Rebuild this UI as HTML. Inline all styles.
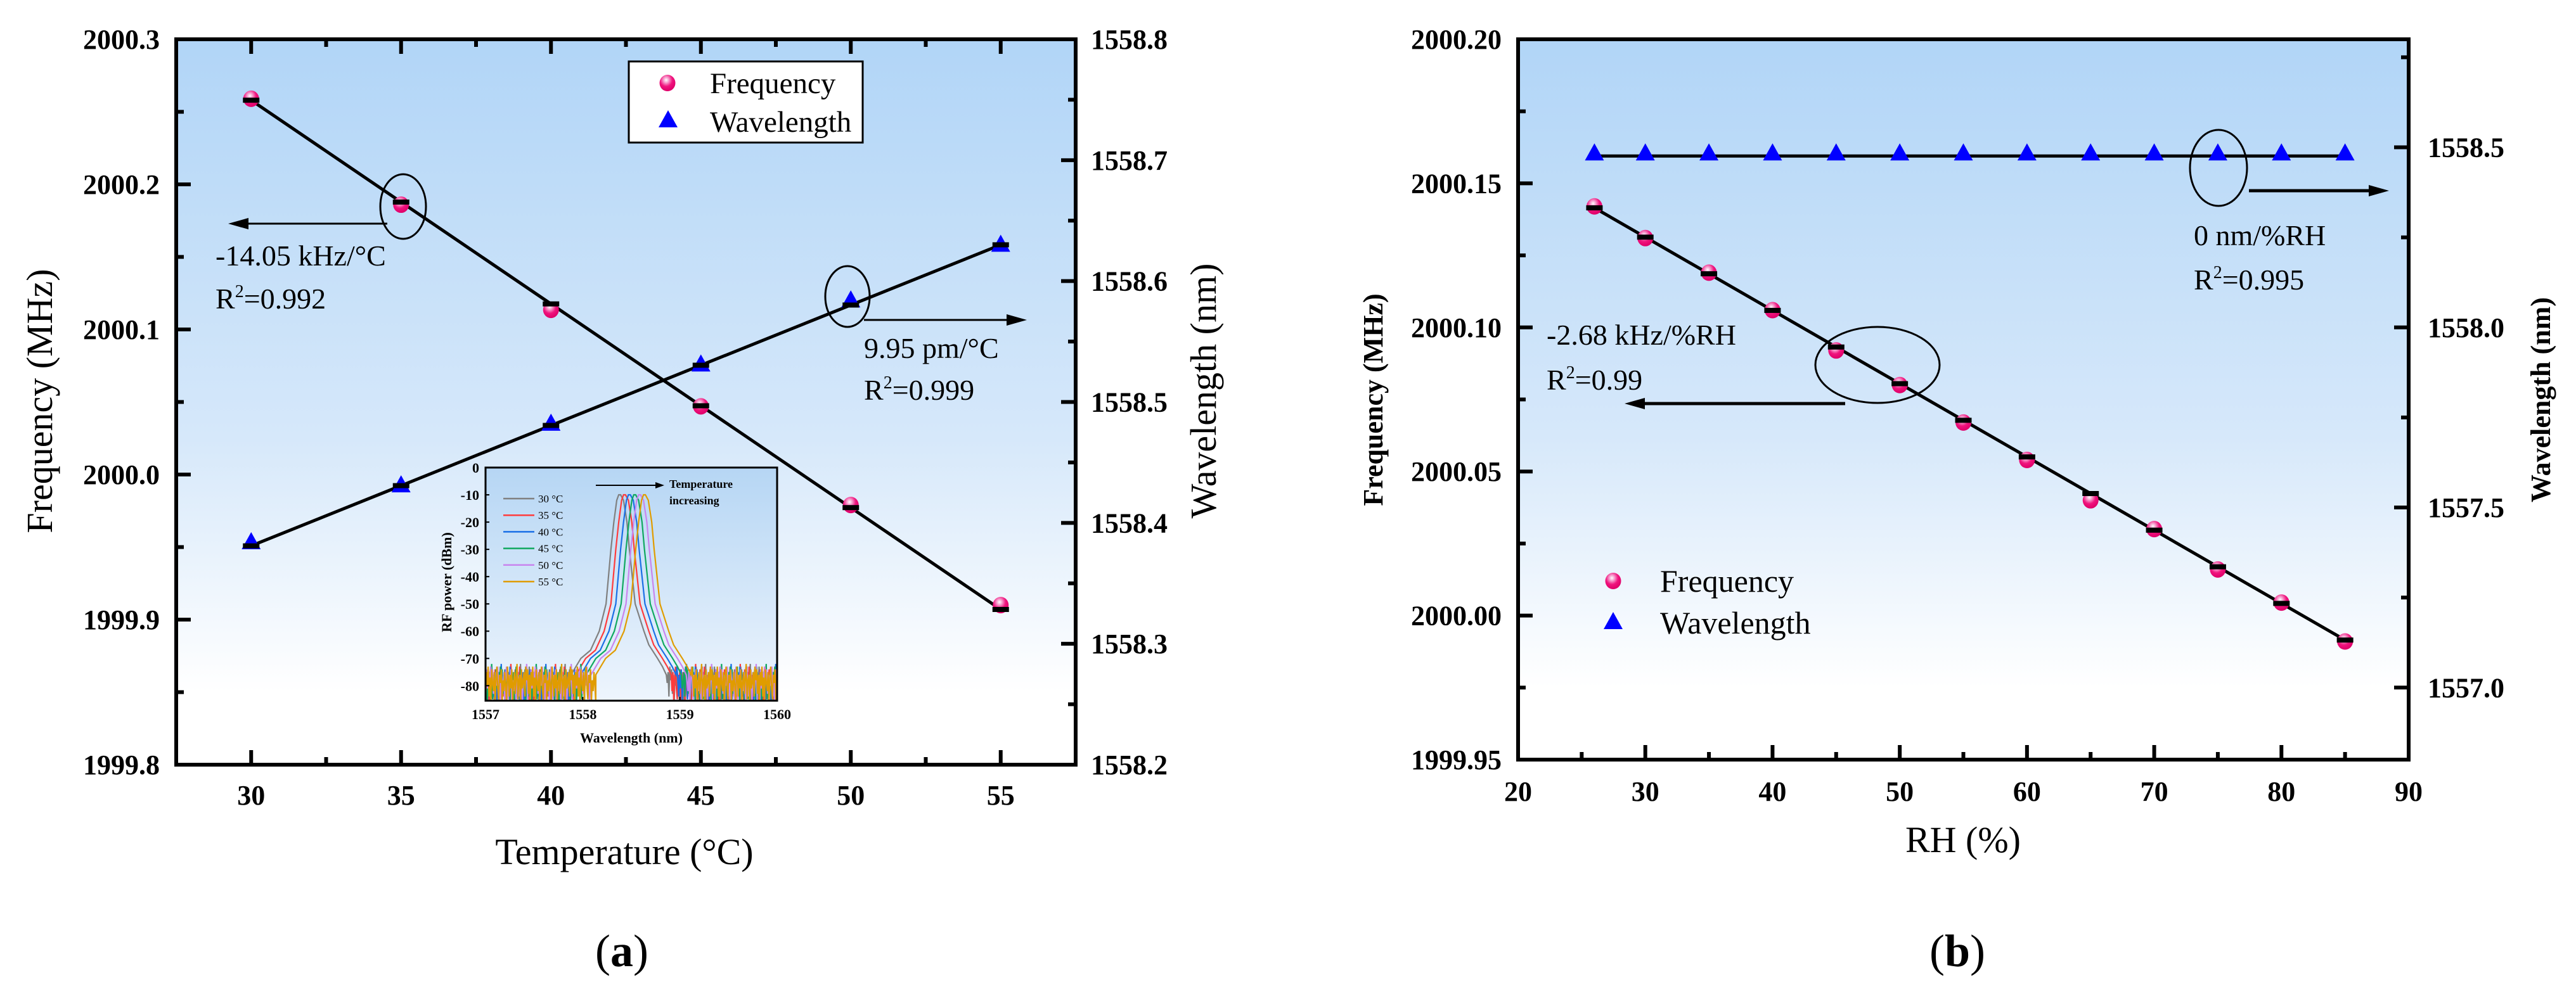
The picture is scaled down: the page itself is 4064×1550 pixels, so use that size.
<!DOCTYPE html>
<html><head><meta charset="utf-8">
<style>
html,body{margin:0;padding:0;background:#fff;}
svg{display:block;}
svg text{font-family:"Liberation Serif","Times New Roman",serif;}
</style></head>
<body>
<svg id="fig" width="4064" height="1550" viewBox="0 0 4064 1550" xmlns="http://www.w3.org/2000/svg" font-family="Liberation Serif, serif">
<defs>
<linearGradient id="bg" x1="0" y1="0" x2="0" y2="1">
<stop offset="0" stop-color="#b1d5f7"/><stop offset="0.55" stop-color="#d6e8fa"/><stop offset="0.9" stop-color="#ffffff"/><stop offset="1" stop-color="#ffffff"/>
</linearGradient>
<linearGradient id="bgi" x1="0" y1="0" x2="0" y2="1">
<stop offset="0" stop-color="#b6d6f4"/><stop offset="1" stop-color="#eef5fd"/>
</linearGradient>
<radialGradient id="ball" cx="0.42" cy="0.32" r="0.65">
<stop offset="0" stop-color="#ffffff"/><stop offset="0.25" stop-color="#f7a0cf"/><stop offset="0.6" stop-color="#f0147e"/><stop offset="1" stop-color="#e0006a"/>
</radialGradient>
<clipPath id="insetclip"><rect x="766" y="738" width="460" height="368"/></clipPath>
</defs>
<g id="root"></g>
</svg>
<script>
// ===== Panel (a) data =====
const tempX = [30, 35, 40, 45, 50, 55];
const tempFreq = [2000.259, 2000.186, 2000.1135, 2000.047, 1999.979, 1999.910];
const tempWave = [1558.384, 1558.431, 1558.482, 1558.531, 1558.584, 1558.630];
const tempFitFreq = [2000.258, 1999.907];
const tempFitWave = [1558.381, 1558.630];
const aLeftTicks = ["1999.8","1999.9","2000.0","2000.1","2000.2","2000.3"];
const aRightTicks = ["1558.2","1558.3","1558.4","1558.5","1558.6","1558.7","1558.8"];
const aXTicks = [30, 35, 40, 45, 50, 55];
// inset data
const insetLabels = ["30 °C","35 °C","40 °C","45 °C","50 °C","55 °C"];
const insetCenters = [1558.38, 1558.43, 1558.48, 1558.535, 1558.585, 1558.635];
const profileOff = [-0.5,-0.45,-0.4,-0.3,-0.21,-0.14,-0.09,-0.06,-0.03,-0.01,0.01,0.04,0.075,0.1,0.16,0.25,0.3,0.39,0.44,0.48];
const profileDb  = [-76,-73,-70,-67,-60,-50,-30,-20,-12,-10,-10,-12,-20,-30,-50,-60,-65,-70,-73,-76];
const noiseDb = [-78,-74,-83,-76,-86,-75,-80,-73,-84,-77,-86,-74,-79,-82,-75,-86,-77,-73,-81,-85,-76,-79,-74,-86,-78,-82,-75,-80,-86,-73,-77,-84,-76,-81,-74,-86,-79,-75,-83,-77,-72,-85,-78,-76,-87,-74,-81,-79,-75,-84,-73];
const insetXTicks = [1557, 1558, 1559, 1560];
const insetYTicks = [0,-10,-20,-30,-40,-50,-60,-70,-80];
// ===== Panel (b) data =====
const rhX = [26, 30, 35, 40, 45, 50, 55, 60, 65, 70, 75, 80, 85];
const rhFreq = [2000.142, 2000.131, 2000.119, 2000.106, 2000.092, 2000.080, 2000.067, 2000.054, 2000.040, 2000.030, 2000.016, 2000.0045, 1999.991];
const rhWave = [1558.476, 1558.476, 1558.476, 1558.476, 1558.476, 1558.476, 1558.476, 1558.476, 1558.476, 1558.476, 1558.476, 1558.476, 1558.476];
const rhFitFreq = [2000.1415, 1999.9915];
const rhFitWave = [1558.476, 1558.476];
const bLeftTicks = ["1999.95","2000.00","2000.05","2000.10","2000.15","2000.20"];
const bRightTicks = ["1557.0","1557.5","1558.0","1558.5"];
const bXTicks = [20, 30, 40, 50, 60, 70, 80, 90];

const NS = "http://www.w3.org/2000/svg";
const root = document.getElementById('root');
function mk(tag, attrs, parent, text){
  const e = document.createElementNS(NS, tag);
  for (const k in attrs) e.setAttribute(k, attrs[k]);
  if (tag === 'text') e.setAttribute('font-family', 'Liberation Serif, Times New Roman, serif');
  if (text !== undefined) e.textContent = text;
  (parent || root).appendChild(e);
  return e;
}
function lin(d0,d1,r0,r1){ return v => r0 + (v-d0)/(d1-d0)*(r1-r0); }

function arrow(g, x1, y, x2, w, name){
  const dir = x2 > x1 ? 1 : -1;
  const ln = mk('line', {x1:x1, y1:y, x2:x2 - dir*28, y2:y, stroke:'#000', 'stroke-width':w}, g);
  
  
  const hd = mk('polygon', {points:`${x2},${y} ${x2-dir*32},${y-9} ${x2-dir*32},${y+9}`, fill:'#000'}, g);
  
  
}
function marker(g, kind, x, y){
  if (kind === 'c') {
    const c = mk('ellipse', {cx:x, cy:y, rx:12.5, ry:13, fill:'url(#ball)'}, g);
    
    
  } else {
    const t = mk('polygon', {points:`${x},${y-16} ${x-15},${y+11} ${x+15},${y+11}`, fill:'#0000ff'}, g);
    
    
  }
}
function dash(g, x, y){
  const d = mk('rect', {x:x-13, y:y-4, width:26, height:8, fill:'#000'}, g);
  
  
}
function r2text(g, x, y, val, name){
  const t = mk('text', {x:x, y:y, 'font-size':46}, g);
  
  
  mk('tspan', {}, t, 'R'); mk('tspan', {'font-size':28, dy:-18}, t, '2'); mk('tspan', {dy:18}, t, '=' + val);
}

// ================= PANEL A =================
(function(){
  const L=278, R=1697, T=62, B=1207;
  const sx = lin(27.5, 57.5, L, R);
  const syL = lin(1999.8, 2000.3, B, T);
  const syR = lin(1558.2, 1558.8, B, T);
  const g = mk('g', {});  
  const bg = mk('rect', {x:L, y:T, width:R-L, height:B-T, fill:'url(#bg)'}, g);
   
  for (let i=0;i<aLeftTicks.length;i++){
    const v=parseFloat(aLeftTicks[i]), y=syL(v);
    mk('line',{x1:L,y1:y,x2:L+23,y2:y,stroke:'#000','stroke-width':6},g);
    if (i<aLeftTicks.length-1){ const ym=syL(v+0.05); mk('line',{x1:L,y1:ym,x2:L+12,y2:ym,stroke:'#000','stroke-width':6},g); }
    const t=mk('text',{x:252,y:y+15,'text-anchor':'end','font-size':44,'font-weight':'bold'},g,aLeftTicks[i]);
     
  }
  for (let i=0;i<aRightTicks.length;i++){
    const v=parseFloat(aRightTicks[i]), y=syR(v);
    mk('line',{x1:R,y1:y,x2:R-23,y2:y,stroke:'#000','stroke-width':6},g);
    if (i<aRightTicks.length-1){ const ym=syR(v+0.05); mk('line',{x1:R,y1:ym,x2:R-12,y2:ym,stroke:'#000','stroke-width':6},g); }
    const t=mk('text',{x:1721,y:y+15,'font-size':44,'font-weight':'bold'},g,aRightTicks[i]);
     
  }
  for (let i=0;i<aXTicks.length;i++){
    const x=sx(aXTicks[i]);
    mk('line',{x1:x,y1:B,x2:x,y2:B-23,stroke:'#000','stroke-width':6},g);
    mk('line',{x1:x,y1:T,x2:x,y2:T+23,stroke:'#000','stroke-width':6},g);
    const xm=sx(aXTicks[i]+2.5);
    if (xm<R){ mk('line',{x1:xm,y1:B,x2:xm,y2:B-12,stroke:'#000','stroke-width':6},g); mk('line',{x1:xm,y1:T,x2:xm,y2:T+12,stroke:'#000','stroke-width':6},g); }
    const t=mk('text',{x:x,y:B+63,'text-anchor':'middle','font-size':44,'font-weight':'bold'},g,String(aXTicks[i]));
     
  }
  const n=tempX.length-1;
  const f1=mk('line',{x1:sx(tempX[0]),y1:syL(tempFitFreq[0]),x2:sx(tempX[n]),y2:syL(tempFitFreq[1]),stroke:'#000','stroke-width':5},g);
   
  const f2=mk('line',{x1:sx(tempX[0]),y1:syR(tempFitWave[0]),x2:sx(tempX[n]),y2:syR(tempFitWave[1]),stroke:'#000','stroke-width':5},g);
   
  for (let i=0;i<tempX.length;i++){
    marker(g,'c',sx(tempX[i]),syL(tempFreq[i]));
    marker(g,'t',sx(tempX[i]),syR(tempWave[i]));
    const fr=(tempX[i]-tempX[0])/(tempX[n]-tempX[0]);
    dash(g,sx(tempX[i]),syL(tempFitFreq[0])+(syL(tempFitFreq[1])-syL(tempFitFreq[0]))*fr);
    dash(g,sx(tempX[i]),syR(tempFitWave[0])+(syR(tempFitWave[1])-syR(tempFitWave[0]))*fr);
  }
  mk('ellipse',{cx:636,cy:326,rx:36,ry:51,fill:'none',stroke:'#000','stroke-width':3},g);
  arrow(g,611,353,360,3,'freq-arrow');
  mk('ellipse',{cx:1337,cy:468,rx:35,ry:48,fill:'none',stroke:'#000','stroke-width':3},g);
  arrow(g,1363,505,1620,3,'wave-arrow');
  mk('text',{x:340,y:419,'font-size':46},g,'-14.05 kHz/°C');
  r2text(g,340,487,'0.992','freq-r2-label');
  mk('text',{x:1363,y:565,'font-size':46},g,'9.95 pm/°C');
  r2text(g,1363,631,'0.999','wave-r2-label');
  const lg=mk('g',{},g);  
  mk('rect',{x:992,y:97,width:369,height:128,fill:'#fff',stroke:'#000','stroke-width':3},lg);
  marker(lg,'c',1053,131); marker(lg,'t',1054,190);
  mk('text',{x:1120,y:147,'font-size':47},lg,'Frequency');
  mk('text',{x:1120,y:208,'font-size':47},lg,'Wavelength');
  mk('rect',{x:L,y:T,width:R-L,height:B-T,fill:'none',stroke:'#000','stroke-width':6},g);
  const yt=mk('text',{x:0,y:0,'font-size':58,'text-anchor':'middle',transform:'translate(82,633) rotate(-90)'},g,'Frequency (MHz)');
   
  const yr=mk('text',{x:0,y:0,'font-size':58,'text-anchor':'middle',transform:'translate(1918,617) rotate(-90)'},g,'Wavelength (nm)');
   
  const xt=mk('text',{x:985,y:1364,'font-size':58,'text-anchor':'middle'},g,'Temperature (°C)');
   
  const pl=mk('text',{x:981,y:1525,'font-size':72,'text-anchor':'middle'},g);
   
  mk('tspan',{},pl,'('); mk('tspan',{'font-weight':'bold'},pl,'a'); mk('tspan',{},pl,')');

  // ===== inset =====
  const IL=766, IR=1226, IT=738, IB=1106;
  const ix=lin(1557,1560,IL,IR), iy=lin(0,-85.5,IT,IB);
  const ig=mk('g',{},g);  
  mk('rect',{x:IL,y:IT,width:IR-IL,height:IB-IT,fill:'url(#bgi)'},ig);
  const colors=['#808080','#ff3b3b','#1a6fe6','#10a860','#c884ee','#e09c00'];
  const cg=mk('g',{'clip-path':'url(#insetclip)'},ig);
  for (let k=0;k<insetCenters.length;k++){
    const c=insetCenters[k]; let pts=[];
    let j=k*11;
    for (let w=1557; w<c+profileOff[0]; w+=0.009){ pts.push([w, noiseDb[(j++)%noiseDb.length]]); }
    for (let p=0;p<profileOff.length;p++) pts.push([c+profileOff[p], profileDb[p]]);
    for (let w=c+profileOff[profileOff.length-1]+0.009; w<=1560.01; w+=0.009){ pts.push([w, noiseDb[(j++)%noiseDb.length]]); }
    const d='M'+pts.map(q=>ix(q[0]).toFixed(1)+','+iy(q[1]).toFixed(1)).join('L');
    const pth=mk('path',{d:d,fill:'none',stroke:colors[k],'stroke-width':2.2},cg);
    
    
  }
  mk('rect',{x:IL,y:IT,width:IR-IL,height:IB-IT,fill:'none',stroke:'#000','stroke-width':3},ig);
  for (const v of insetYTicks){
    const y=iy(v);
    mk('line',{x1:IL,y1:y,x2:IL+6,y2:y,stroke:'#000','stroke-width':2},ig);
    mk('text',{x:756,y:y+8,'text-anchor':'end','font-size':22,'font-weight':'bold'},ig,String(v));
  }
  for (const v of insetXTicks){
    const x=ix(v);
    mk('line',{x1:x,y1:IB,x2:x,y2:IB-6,stroke:'#000','stroke-width':2},ig);
    mk('text',{x:x,y:1135,'text-anchor':'middle','font-size':22,'font-weight':'bold'},ig,String(v));
  }
  mk('text',{x:0,y:0,'font-size':22,'font-weight':'bold','text-anchor':'middle',transform:'translate(712,919) rotate(-90)'},ig,'RF power (dBm)');
  mk('text',{x:996,y:1172,'font-size':22,'font-weight':'bold','text-anchor':'middle'},ig,'Wavelength (nm)');
  for (let k=0;k<insetLabels.length;k++){
    const y=787+k*26.2;
    mk('line',{x1:794,y1:y,x2:843,y2:y,stroke:colors[k],'stroke-width':2.5},ig);
    mk('text',{x:849,y:y+6,'font-size':17},ig,insetLabels[k]);
  }
  mk('line',{x1:940,y1:766,x2:1035,y2:766,stroke:'#000','stroke-width':2},ig);
  mk('polygon',{points:'1048,766 1034,761 1034,771',fill:'#000'},ig);
  mk('text',{x:1056,y:770,'font-size':18,'font-weight':'bold'},ig,'Temperature');
  mk('text',{x:1056,y:796,'font-size':18,'font-weight':'bold'},ig,'increasing');
})();

// ================= PANEL B =================
(function(){
  const L=2395, R=3800, T=62, B=1199;
  const sx=lin(20,90,L,R);
  const syL=lin(1999.95,2000.20,B,T);
  const syR=lin(1556.8,1558.8,B,T);
  const g=mk('g',{});  
  const bg=mk('rect',{x:L,y:T,width:R-L,height:B-T,fill:'url(#bg)'},g);
   
  for (let i=0;i<bLeftTicks.length;i++){
    const v=parseFloat(bLeftTicks[i]), y=syL(v);
    mk('line',{x1:L,y1:y,x2:L+23,y2:y,stroke:'#000','stroke-width':6},g);
    if (i<bLeftTicks.length-1){ const ym=syL(v+0.025); mk('line',{x1:L,y1:ym,x2:L+12,y2:ym,stroke:'#000','stroke-width':6},g); }
    const t=mk('text',{x:2369,y:y+15,'text-anchor':'end','font-size':44,'font-weight':'bold'},g,bLeftTicks[i]);
     
  }
  for (let i=0;i<bRightTicks.length;i++){
    const v=parseFloat(bRightTicks[i]), y=syR(v);
    mk('line',{x1:R,y1:y,x2:R-23,y2:y,stroke:'#000','stroke-width':6},g);
    for (const m of [v-0.25, v+0.25]){ if (m>1556.8 && m<1558.8 && (i===0 || m>v)){ const ym=syR(m); mk('line',{x1:R,y1:ym,x2:R-12,y2:ym,stroke:'#000','stroke-width':6},g);} }
    const t=mk('text',{x:3830,y:y+15,'font-size':44,'font-weight':'bold'},g,bRightTicks[i]);
     
  }
  for (let i=0;i<bXTicks.length;i++){
    const x=sx(bXTicks[i]);
    mk('line',{x1:x,y1:B,x2:x,y2:B-23,stroke:'#000','stroke-width':6},g);
    if (i<bXTicks.length-1){ const xm=sx(bXTicks[i]+5); mk('line',{x1:xm,y1:B,x2:xm,y2:B-12,stroke:'#000','stroke-width':6},g); }
    const t=mk('text',{x:x,y:B+65,'text-anchor':'middle','font-size':44,'font-weight':'bold'},g,String(bXTicks[i]));
     
  }
  const x0=rhX[0], x1=rhX[rhX.length-1];
  const f1=mk('line',{x1:sx(x0),y1:syL(rhFitFreq[0]),x2:sx(x1),y2:syL(rhFitFreq[1]),stroke:'#000','stroke-width':5},g);
   
  const f2=mk('line',{x1:sx(x0),y1:syR(rhFitWave[0]),x2:sx(x1),y2:syR(rhFitWave[1]),stroke:'#000','stroke-width':5},g);
   
  for (let i=0;i<rhX.length;i++){
    marker(g,'c',sx(rhX[i]),syL(rhFreq[i]));
    const fy=syL(rhFitFreq[0])+(syL(rhFitFreq[1])-syL(rhFitFreq[0]))*(rhX[i]-x0)/(x1-x0);
    dash(g,sx(rhX[i]),fy);
    marker(g,'t',sx(rhX[i]),syR(rhWave[i])-4);
  }
  mk('ellipse',{cx:3500,cy:265,rx:45,ry:60,fill:'none',stroke:'#000','stroke-width':3},g);
  arrow(g,3548,301,3769,5,'wave-arrow');
  mk('ellipse',{cx:2962,cy:576,rx:98,ry:60,fill:'none',stroke:'#000','stroke-width':3},g);
  arrow(g,2911,637,2563,5,'freq-arrow');
  mk('text',{x:3461,y:387,'font-size':46},g,'0 nm/%RH');
  r2text(g,3461,457,'0.995','wave-r2-label');
  mk('text',{x:2440,y:544,'font-size':46},g,'-2.68 kHz/%RH');
  r2text(g,2440,615,'0.99','freq-r2-label');
  const lg=mk('g',{},g);  
  marker(lg,'c',2545,917); marker(lg,'t',2545,982);
  mk('text',{x:2619,y:934,'font-size':50},lg,'Frequency');
  mk('text',{x:2619,y:1000,'font-size':50},lg,'Wavelength');
  mk('rect',{x:L,y:T,width:R-L,height:B-T,fill:'none',stroke:'#000','stroke-width':6},g);
  const yt=mk('text',{x:0,y:0,'font-size':44,'font-weight':'bold','text-anchor':'middle',transform:'translate(2181,631) rotate(-90)'},g,'Frequency (MHz)');
   
  const yr=mk('text',{x:0,y:0,'font-size':44,'font-weight':'bold','text-anchor':'middle',transform:'translate(4023,631) rotate(-90)'},g,'Wavelength (nm)');
   
  const xt=mk('text',{x:3097,y:1345,'font-size':58,'text-anchor':'middle'},g,'RH (%)');
   
  const pl=mk('text',{x:3088,y:1525,'font-size':72,'text-anchor':'middle'},g);
   
  mk('tspan',{},pl,'('); mk('tspan',{'font-weight':'bold'},pl,'b'); mk('tspan',{},pl,')');
})();
</script>
</body></html>
